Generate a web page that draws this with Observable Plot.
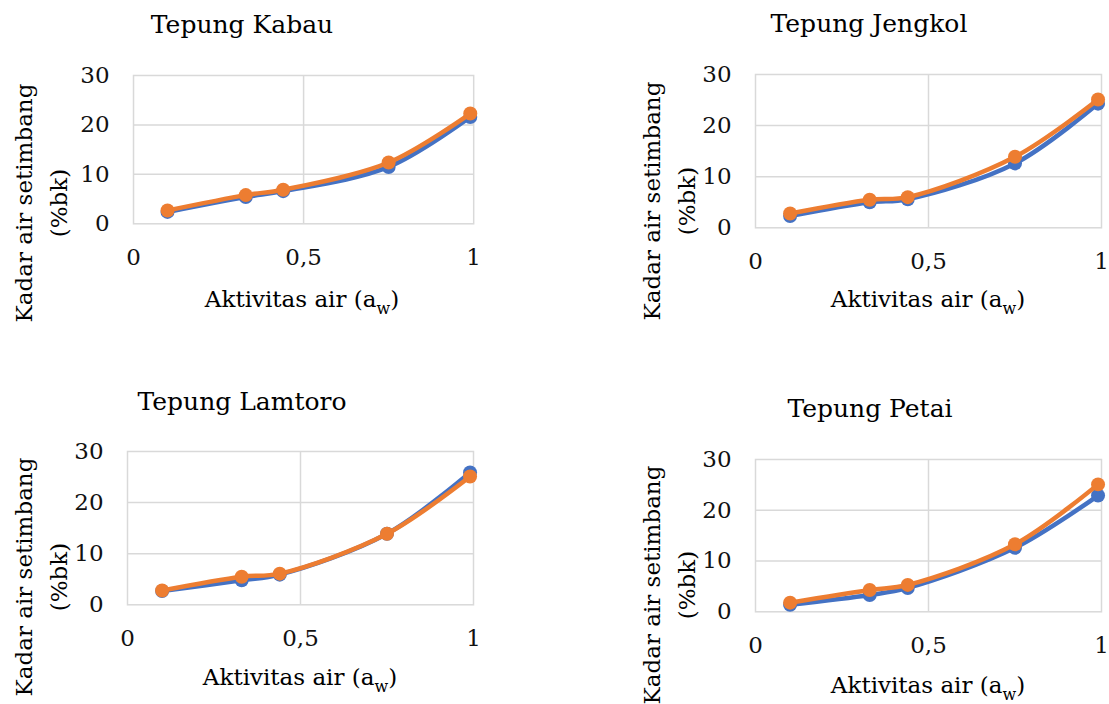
<!DOCTYPE html>
<html><head><meta charset="utf-8">
<script src="https://cdn.jsdelivr.net/npm/d3@7"></script>
<script src="https://cdn.jsdelivr.net/npm/@observablehq/plot@0.6"></script>
<style>
html,body{margin:0;padding:0;background:#fff;}
#wrap{position:relative;width:1109px;height:704px;overflow:hidden;background:#fff;}
#wrap > svg{position:absolute;}
</style></head><body><div id="wrap"></div>
<script>
// ---- data ----
const aw = [0.1, 0.33, 0.44, 0.75, 0.99];
const titles = ["Tepung Kabau", "Tepung Jengkol", "Tepung Lamtoro", "Tepung Petai"];
const kabauBlue   = [2.4, 5.4, 6.6, 11.5, 21.6];
const kabauOrange = [2.7, 5.8, 6.9, 12.4, 22.3];
const jengkolBlue   = [2.3, 5.0, 5.6, 12.6, 24.3];
const jengkolOrange = [2.8, 5.5, 6.0, 13.9, 25.1];
const lamtoroBlue   = [2.7, 4.8, 5.9, 13.9, 25.9];
const lamtoroOrange = [2.8, 5.5, 6.1, 13.9, 25.1];
const petaiBlue   = [1.4, 3.3, 4.7, 12.6, 22.9];
const petaiOrange = [1.8, 4.3, 5.3, 13.3, 25.1];
const xTicks = [0, 0.5, 1];
const xTickLabels = ["0", "0,5", "1"];
const yTicks = [0, 10, 20, 30];
const yLabelLines = ["Kadar air setimbang", "(%bk)"];
const xLabelParts = ["Aktivitas air (a", "w", ")"];

// ---- layout ----
const FONT = "'DejaVu Serif', serif";
const FS = 23, TITLE_FS = 25;
const BLUE = "#4472C4", ORANGE = "#ED7D31", GRID = "#d9d9d9";
const panels = [
  {title: titles[0], A: kabauBlue, B: kabauOrange, left: 132.5, right: 472.7, top: 75, bottom: 223.3,
   titleX: 242, titleY: 33, yl1: 32, yl2: 67, ylC: 203, xlX: 302, xlY: 307},
  {title: titles[1], A: jengkolBlue, B: jengkolOrange, left: 755.3, right: 1101.3, top: 74, bottom: 227.3,
   titleX: 869, titleY: 32, yl1: 660, yl2: 695, ylC: 201, xlX: 928, xlY: 307},
  {title: titles[2], A: lamtoroBlue, B: lamtoroOrange, left: 127.3, right: 473.3, top: 451, bottom: 604.3,
   titleX: 242, titleY: 410, yl1: 32, yl2: 67, ylC: 577, xlX: 300, xlY: 685},
  {title: titles[3], A: petaiBlue, B: petaiOrange, left: 755.3, right: 1101.3, top: 459, bottom: 611.3,
   titleX: 870, titleY: 417, yl1: 660, yl2: 695, ylC: 585, xlX: 928, xlY: 693}
];

const wrap = document.getElementById("wrap");
const mL = 70, mR = 20, mT = 20, mB = 60;

for (const P of panels) {
  const rowsA = aw.map((x, i) => ({x, y: P.A[i]}));
  const rowsB = aw.map((x, i) => ({x, y: P.B[i]}));
  const w = P.right - P.left + mL + mR;
  const h = P.bottom - P.top + mT + mB;
  const chart = Plot.plot({
    width: w, height: h,
    marginLeft: mL, marginRight: mR, marginTop: mT, marginBottom: mB,
    style: {fontFamily: FONT, fontSize: FS + "px", color: "#111", background: "transparent", overflow: "visible"},
    x: {domain: [0, 1]},
    y: {domain: [0, 30]},
    marks: [
      Plot.gridX([0.5], {stroke: GRID, strokeOpacity: 1, strokeWidth: 1.5}),
      Plot.gridY([10, 20], {stroke: GRID, strokeOpacity: 1, strokeWidth: 1.5}),
      Plot.frame({stroke: GRID, strokeWidth: 1.5}),
      Plot.axisX(xTicks, {tickSize: 0, tickPadding: 25, label: null,
        tickFormat: d => xTickLabels[xTicks.indexOf(d)]}),
      Plot.axisY(yTicks, {tickSize: 0, tickPadding: 24, label: null}),
      Plot.line(rowsA, {x: "x", y: "y", stroke: BLUE, strokeWidth: 4.5, curve: "catmull-rom"}),
      Plot.dot(rowsA, {x: "x", y: "y", fill: BLUE, r: 7}),
      Plot.line(rowsB, {x: "x", y: "y", stroke: ORANGE, strokeWidth: 4.5, curve: "catmull-rom"}),
      Plot.dot(rowsB, {x: "x", y: "y", fill: ORANGE, r: 7})
    ]
  });
  chart.style.position = "absolute";
  chart.style.left = (P.left - mL) + "px";
  chart.style.top = (P.top - mT) + "px";
  wrap.appendChild(chart);
}

// ---- text overlay: titles and axis labels ----
const ov = d3.select(wrap).append("svg")
  .attr("width", 1109).attr("height", 704)
  .style("left", "0px").style("top", "0px")
  .style("font-family", FONT).style("font-size", FS + "px").attr("fill", "#000");

for (const P of panels) {
  ov.append("text").attr("x", P.titleX).attr("y", P.titleY)
    .attr("text-anchor", "middle").attr("font-size", TITLE_FS + "px").text(P.title);
  ov.append("text").attr("transform", `translate(${P.yl1},${P.ylC}) rotate(-90)`)
    .attr("text-anchor", "middle").text(yLabelLines[0]);
  ov.append("text").attr("transform", `translate(${P.yl2},${P.ylC}) rotate(-90)`)
    .attr("text-anchor", "middle").text(yLabelLines[1]);
  const t = ov.append("text").attr("x", P.xlX).attr("y", P.xlY).attr("text-anchor", "middle");
  t.append("tspan").text(xLabelParts[0]);
  t.append("tspan").attr("font-size", "16px").attr("dy", 7).text(xLabelParts[1]);
  t.append("tspan").attr("dy", -7).text(xLabelParts[2]);
}
</script>
</body></html>
